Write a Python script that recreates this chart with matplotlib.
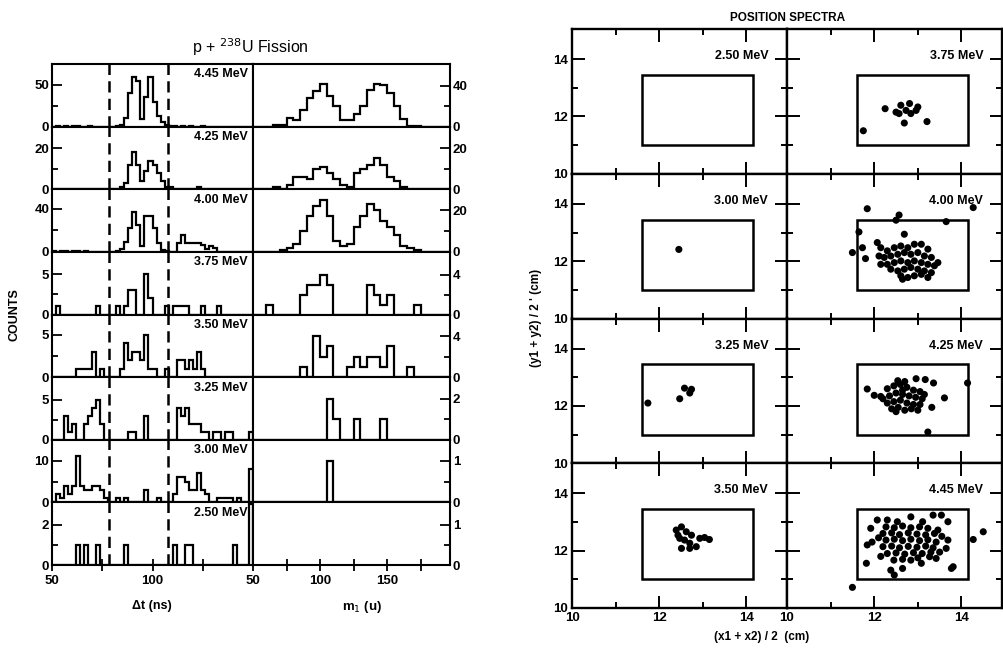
import numpy as np
import matplotlib
matplotlib.use("Agg")
import matplotlib.pyplot as plt
from matplotlib.patches import Rectangle

plt.rcParams['font.family'] = ['Liberation Sans', 'DejaVu Sans']

# ---------------- data: left block (histograms) ----------------
energies = ["4.45", "4.25", "4.00", "3.75", "3.50", "3.25", "3.00", "2.50"]
dt_edges = np.arange(50, 151, 2)      # delta t bins (ns)
m_edges = np.arange(50, 201, 5)       # mass bins (u)

dt_445 = [0,1,0,1,0,1,1,0,0,1, 0,0,0,0,0,0,1,2,10,40, 60,55,9,35,60,30,13,5,2,1,
          1,0,1,0,1,0,0,1,0,0, 0,0,0,0,0,0,0,0,0,0]
dt_425 = [0,0,0,0,0,0,0,0,0,0, 0,0,0,0,0,0,0,1,3,12, 18,12,4,9,14,12,8,4,1,1,
          0,0,0,0,0,0,1,0,0,0, 0,0,0,0,0,0,0,0,0,0]
dt_400 = [1,0,1,1,0,1,1,0,1,0, 0,0,0,0,0,0,1,3,9,22, 37,25,5,33,33,22,8,2,1,0,
          0,8,16,8,8,8,8,6,3,5, 4,0,0,0,0,0,0,0,0,0]
dt_375 = [0,1,0,0,0,0,0,0,0,0, 0,1,0,0,0,0,1,0,1,3, 3,0,0,5,2,0,0,0,1,0,
          1,1,1,1,0,0,0,1,0,0, 0,1,0,0,0,0,0,0,0,0]
dt_350 = [0,0,0,0,0,0,1,1,1,1, 3,0,1,0,0,0,0,1,4,2, 3,3,2,5,1,1,0,0,1,0,
          0,2,2,1,2,1,3,1,0,0, 0,0,0,0,0,0,0,0,0,0]
dt_325 = [0,0,0,3,1,2,0,0,2,3, 4,5,2,0,0,0,0,0,0,1, 1,0,0,3,0,0,0,0,0,0,
          0,4,3,4,2,2,2,1,1,0, 1,1,0,1,1,0,0,0,0,1]
dt_300 = [0,2,1,4,2,4,11,4,3,3, 4,4,3,1,0,0,1,0,1,0, 0,0,0,3,0,0,1,0,0,0,
          2,6,6,5,3,3,7,3,2,0, 0,1,1,1,1,0,1,0,0,8]
dt_250 = [0,0,0,0,0,0,1,0,1,0, 0,1,0,0,0,0,0,0,1,0, 0,0,0,0,0,0,0,0,0,0,
          1,0,0,1,1,0,0,0,0,0, 0,0,0,0,0,1,0,0,0,3]

m_445 = [0,0,0,2,2,8,6,16,28,35, 42,30,20,6,6,12,20,36,42,41, 33,20,7,1,1,0,0,0,0,0]
m_425 = [0,0,0,1,0,2,6,6,5,10, 11,8,5,2,1,8,10,12,15,12, 6,4,1,0,0,0,0,0,0,0]
m_400 = [0,0,0,0,1,2,4,10,17,22, 25,17,5,3,4,12,17,23,20,15, 12,8,3,2,1,0,0,0,0,0]
m_375 = [0,0,1,0,0,0,0,2,3,3, 4,3,0,0,0,0,0,3,2,1, 2,0,0,0,1,0,0,0,0,0]
m_350 = [0,0,0,0,0,0,0,1,0,4, 2,3,0,0,1,2,1,2,2,1, 3,0,0,1,0,0,0,0,0,0]
m_325 = [0,0,0,0,0,0,0,0,0,0, 0,2,1,0,0,1,0,0,0,1, 0,0,0,0,0,0,0,0,0,0]
m_300 = [0,0,0,0,0,0,0,0,0,0, 0,1,0,0,0,0,0,0,0,0, 0,0,0,0,0,0,0,0,0,0]
m_250 = [0]*30

dt_counts = [dt_445, dt_425, dt_400, dt_375, dt_350, dt_325, dt_300, dt_250]
m_counts = [m_445, m_425, m_400, m_375, m_350, m_325, m_300, m_250]

dt_cuts = [78.5, 107.5]

# axis scales per row (limit, labelled tick)
left_lim = [75, 30.5, 58, 7.8, 7.4, 7.8, 15, 3.1]
left_tick = [50, 20, 40, 5, 5, 5, 10, 2]
right_lim = [61, 30.5, 30, 6.3, 6.1, 3.05, 1.5, 1.55]
right_tick = [40, 20, 20, 4, 4, 2, 1, 1]

# ---------------- data: right block (position spectra) ----------------
pos_energies = [["2.50", "3.75"], ["3.00", "4.00"], ["3.25", "4.25"], ["3.50", "4.45"]]

p250_x, p250_y = [], []
p300_x, p300_y = [12.45], [12.41]
p325_x = [11.74, 12.47, 12.58, 12.70, 12.74]
p325_y = [12.10, 12.25, 12.62, 12.45, 12.58]
p350_x = [12.39, 12.51, 12.62, 12.47, 12.58, 12.74, 12.51, 12.70, 12.85, 12.93, 13.04, 13.15, 12.70, 12.43]
p350_y = [12.72, 12.83, 12.66, 12.43, 12.37, 12.54, 12.08, 12.08, 12.14, 12.43, 12.46, 12.39, 12.26, 12.54]
p375_x = [11.75, 12.25, 12.50, 12.61, 12.73, 12.81, 12.96, 13.00, 12.57, 12.84, 12.69, 13.21]
p375_y = [11.50, 12.27, 12.15, 12.39, 12.21, 12.45, 12.21, 12.33, 12.10, 12.10, 11.77, 11.82]
p400_x = [11.84, 12.57, 12.50, 13.65, 14.27, 11.65, 12.69, 11.73, 11.50, 11.80, 12.07,
          12.15, 12.30, 12.46, 12.61, 12.77, 12.92, 13.08, 13.23,
          12.23, 12.38, 12.54, 12.69, 12.84, 13.00, 13.15, 13.31,
          12.30, 12.46, 12.61, 12.77, 12.92, 13.08, 13.23, 13.38,
          12.38, 12.54, 12.69, 12.84, 13.00, 13.15, 13.31,
          12.61, 12.77, 12.92, 13.08, 13.23, 12.65, 12.15, 12.11, 13.46]
p400_y = [13.83, 13.61, 13.43, 13.38, 13.87, 13.02, 12.94, 12.47, 12.30, 12.09, 12.65,
          12.47, 12.36, 12.47, 12.53, 12.47, 12.59, 12.59, 12.42,
          12.13, 12.18, 12.24, 12.30, 12.24, 12.30, 12.18, 12.13,
          11.89, 11.95, 12.01, 11.95, 12.01, 11.95, 11.89, 11.84,
          11.72, 11.66, 11.72, 11.78, 11.72, 11.66, 11.60,
          11.49, 11.43, 11.49, 11.54, 11.43, 11.37, 11.89, 12.18, 11.95]
p425_x = [11.84, 12.00, 12.15, 12.54, 12.96, 13.17, 13.36, 13.61, 13.32, 14.14, 13.23,
          12.30, 12.45, 12.60, 12.75, 12.90, 13.05, 12.35, 12.50, 12.65, 12.80, 12.95, 13.10,
          12.30, 12.45, 12.60, 12.75, 12.90, 13.05, 12.40, 12.55, 12.70, 12.85, 12.65, 12.20,
          12.50, 13.15, 12.70, 13.00]
p425_y = [12.59, 12.37, 12.33, 12.88, 12.95, 12.92, 12.80, 12.28, 11.95, 12.80, 11.09,
          12.60, 12.70, 12.75, 12.65, 12.55, 12.50, 12.35, 12.45, 12.40, 12.35, 12.30, 12.25,
          12.10, 12.15, 12.20, 12.10, 12.05, 12.05, 11.90, 11.95, 11.85, 11.90, 12.55, 12.25,
          11.80, 12.40, 12.85, 11.85]
p445_x = [11.84, 11.82, 11.50, 14.27, 14.50, 12.38, 12.46, 12.65, 13.77, 13.81, 13.65, 13.69,
          13.54, 13.35, 13.69, 11.92, 12.07, 12.30, 12.53, 12.84, 13.11, 13.46, 13.08, 13.27,
          13.42, 12.84,
          12.27, 12.46, 12.65, 12.84, 13.04, 13.23,
          12.20, 12.40, 12.58, 12.78, 12.98, 13.18, 13.38,
          12.27, 12.46, 12.65, 12.84, 13.04, 13.23, 13.42,
          12.20, 12.40, 12.58, 12.78, 12.98, 13.18, 13.35,
          12.30, 12.50, 12.70, 12.90, 13.10, 13.30,
          12.45, 12.65, 13.00, 12.15, 12.10, 11.95, 13.55, 13.50]
p445_y = [12.20, 11.56, 10.72, 12.39, 12.66, 11.32, 11.15, 11.38, 11.38, 11.44, 12.08, 12.37,
          13.24, 13.24, 13.01, 12.78, 13.07, 13.07, 13.01, 13.18, 13.01, 12.72, 11.56, 11.79,
          11.73, 11.67,
          12.83, 12.80, 12.86, 12.80, 12.83, 12.78,
          12.60, 12.62, 12.56, 12.62, 12.58, 12.55, 12.60,
          12.37, 12.40, 12.35, 12.40, 12.35, 12.38, 12.30,
          12.14, 12.16, 12.10, 12.15, 12.12, 12.16, 12.10,
          11.90, 11.92, 11.88, 11.93, 11.90, 11.95,
          11.67, 11.70, 11.75, 11.80, 12.45, 12.30, 12.50, 11.95]

pos_points = [[(p250_x, p250_y), (p375_x, p375_y)],
              [(p300_x, p300_y), (p400_x, p400_y)],
              [(p325_x, p325_y), (p425_x, p425_y)],
              [(p350_x, p350_y), (p445_x, p445_y)]]
gate_x = (11.6, 14.15)
gate_y = (11.0, 13.45)

# ---------------- figure ----------------
W, H = 1004, 655
fig = plt.figure(figsize=(W / 100, H / 100), dpi=100)
fig.patch.set_facecolor('white')

def fx(px):
    return px / W

def fy(py):
    return 1 - py / H

LW = 1.6

top, bot = 64, 565
rh = (bot - top) / 8
for i in range(8):
    y0 = fy(top + (i + 1) * rh)
    hh = rh / H
    axl = fig.add_axes([fx(52), y0, fx(201), hh])
    axr = fig.add_axes([fx(253), y0, fx(197), hh])
    for ax in (axl, axr):
        for s in ax.spines.values():
            s.set_linewidth(1.5)
    axl.stairs(dt_counts[i], dt_edges, color='k', lw=LW, baseline=0)
    if sum(m_counts[i]) > 0:
        axr.stairs(m_counts[i], m_edges, color='k', lw=LW, baseline=0)
    for c in dt_cuts:
        axl.axvline(c, color='k', lw=1.8, ls=(0, (4.5, 2.5)))
    axl.set_xlim(50, 150)
    axr.set_xlim(50, 197)
    axl.set_ylim(0, left_lim[i])
    axr.set_ylim(0, right_lim[i])
    axl.set_yticks([0, left_tick[i]])
    axl.set_yticks([left_tick[i] / 2], minor=True)
    axr.set_yticks([0, right_tick[i]])
    axr.set_yticks([right_tick[i] / 2], minor=True)
    axr.yaxis.tick_right()
    for ax in (axl, axr):
        ax.tick_params(axis='y', which='major', direction='in', length=7, width=1.3,
                       labelsize=9.5, pad=2)
        ax.tick_params(axis='y', which='minor', direction='in', length=4, width=1.3)
    for lab in axl.get_yticklabels() + axr.get_yticklabels():
        lab.set_fontweight('bold')
    axl.text(0.975, 0.93, f"{energies[i]} MeV", transform=axl.transAxes,
             ha='right', va='top', fontsize=9, fontweight='bold')
    if i < 7:
        axl.set_xticks([])
        axr.set_xticks([])
    else:
        axl.set_xticks([50, 100])
        axl.set_xticks([75, 125], minor=True)
        axr.set_xticks([50, 100, 150])
        axr.set_xticks([75, 125, 175], minor=True)
        for ax in (axl, axr):
            ax.tick_params(axis='x', which='both', direction='inout', length=8, width=1.3,
                           labelsize=9.5, pad=3)
            for lab in ax.get_xticklabels():
                lab.set_fontweight('bold')

fig.text(fx(250), fy(47), r"p + $^{238}$U Fission", ha='center', va='center', fontsize=11.5)
fig.text(fx(15), fy(315), "COUNTS", rotation=90, ha='center', va='center',
         fontsize=9, fontweight='bold')
fig.text(fx(152), fy(606), "Δt (ns)", ha='center', va='center', fontsize=9, fontweight='bold')
fig.text(fx(362), fy(607), r"m$_1$ (u)", ha='center', va='center', fontsize=9.5, fontweight='bold')

# right block
rtop, rbot = 29, 608
prh = (rbot - rtop) / 4
cols_x = [572, 787]
for r in range(4):
    y0 = fy(rtop + (r + 1) * prh)
    for c in range(2):
        ax = fig.add_axes([fx(cols_x[c]), y0, fx(215), prh / H])
        for s in ax.spines.values():
            s.set_linewidth(1.7)
        ax.set_xlim(10, 14.93)
        ax.set_ylim(10, 15.05)
        ax.add_patch(Rectangle((gate_x[0], gate_y[0]), gate_x[1] - gate_x[0],
                               gate_y[1] - gate_y[0], fill=False, lw=1.8, color='k'))
        px, py = pos_points[r][c]
        if len(px):
            ax.scatter(px, py, s=26, c='k', edgecolors='none', zorder=3)
        ax.text(14.5, 14.1, f"{pos_energies[r][c]} MeV", ha='right', va='center',
                fontsize=9, fontweight='bold')
        ax.set_xticks([10, 12, 14])
        ax.set_xticks([11, 13], minor=True)
        ax.set_yticks([10, 12, 14])
        ax.set_yticks([11, 13], minor=True)
        ax.tick_params(which='major', direction='in', length=9, width=1.4,
                       top=True, bottom=True, left=True, right=True,
                       labelsize=9.5, pad=3)
        ax.tick_params(which='minor', direction='in', length=4.5, width=1.4,
                       top=True, bottom=True, left=True, right=True)
        ax.tick_params(labelbottom=(r == 3), labelleft=(c == 0))
        for lab in ax.get_xticklabels() + ax.get_yticklabels():
            lab.set_fontweight('bold')

fig.text(fx(788), fy(18), "POSITION SPECTRA", ha='center', va='center',
         fontsize=8.5, fontweight='bold')
fig.text(fx(536), fy(318), "(y1 + y2) / 2 ' (cm)", rotation=90, ha='center', va='center',
         fontsize=8.5, fontweight='bold')
fig.text(fx(762), fy(637), "(x1 + x2) / 2  (cm)", ha='center', va='center',
         fontsize=8.5, fontweight='bold')

fig.savefig("out.png", dpi=100, facecolor='white')
